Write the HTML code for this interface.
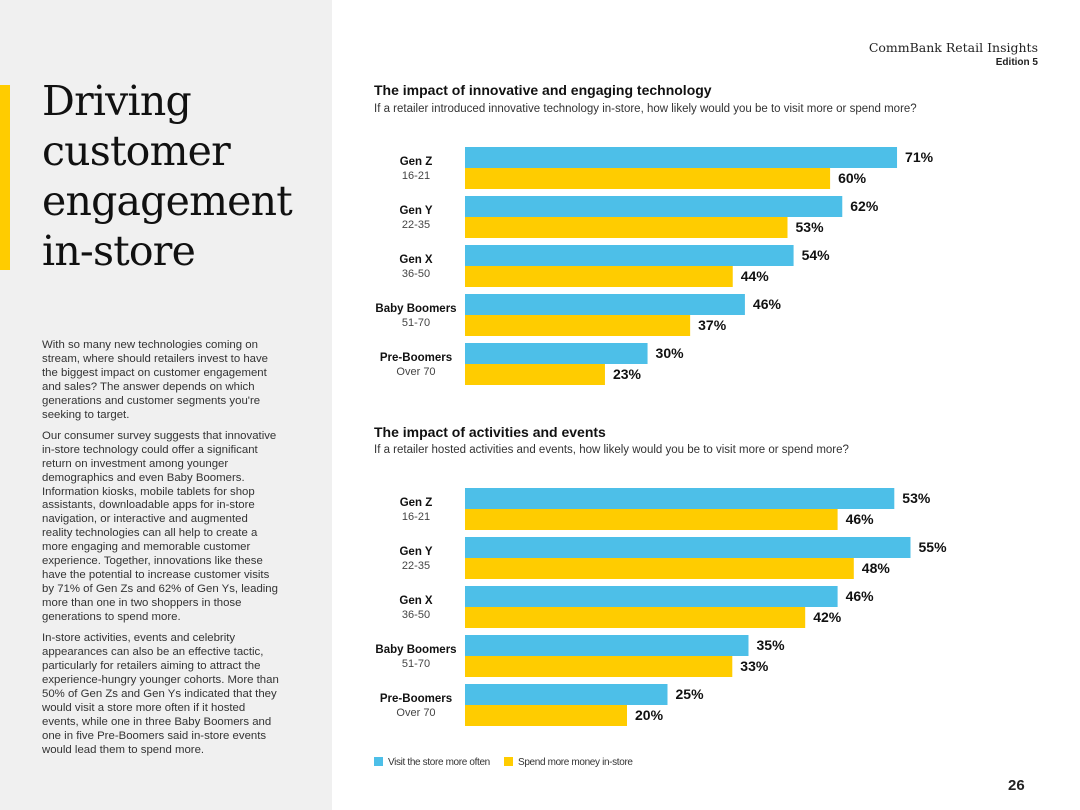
<!DOCTYPE html>
<html><head><meta charset="utf-8"><style>
body{margin:0;width:1080px;height:810px;position:relative;background:#fff;font-family:"Liberation Sans",sans-serif;color:#222;overflow:hidden}
.left{position:absolute;left:0;top:0;width:332px;height:810px;background:#f0f0f0}
.accent{position:absolute;left:0;top:85px;width:10px;height:185px;background:#ffcc00}
h1{position:absolute;left:42px;top:76px;margin:0;font-family:"DejaVu Serif","Liberation Serif",serif;font-weight:normal;font-size:41px;line-height:50px;color:#111;letter-spacing:-0.8px}
.body{position:absolute;left:42px;top:339px;width:238px;font-size:11.4px;line-height:13.95px;color:#333}
.body p{margin:0 0 7px 0}
.hdr{position:absolute;right:42px;top:40px;text-align:right;font-family:"DejaVu Serif",serif;font-size:12.5px;color:#222}
.hdr b{display:block;font-family:"Liberation Sans",sans-serif;font-size:10px;margin-top:2px}
.t{position:absolute;left:374px;font-weight:bold;font-size:14px;color:#111}
.s{position:absolute;left:374px;font-size:11.5px;color:#333}
.pg{position:absolute;left:1008px;top:777px;font-weight:bold;font-size:15px}
.leg{position:absolute;top:757px;font-size:10px;letter-spacing:-0.35px;color:#333;white-space:nowrap}
.leg i{display:inline-block;width:9px;height:9px;margin-right:5px;vertical-align:-1px}
</style></head><body>
<div class="left"></div>
<div class="accent"></div>
<h1>Driving<br>customer<br>engagement<br>in-store</h1>
<div class="body">
<p>With so many new technologies coming on stream, where should retailers invest to have the biggest impact on customer engagement and sales? The answer depends on which generations and customer segments you're seeking to target.</p>
<p>Our consumer survey suggests that innovative in-store technology could offer a significant return on investment among younger demographics and even Baby Boomers. Information kiosks, mobile tablets for shop assistants, downloadable apps for in-store navigation, or interactive and augmented reality technologies can all help to create a more engaging and memorable customer experience. Together, innovations like these have the potential to increase customer visits by 71% of Gen Zs and 62% of Gen Ys, leading more than one in two shoppers in those generations to spend more.</p>
<p>In-store activities, events and celebrity appearances can also be an effective tactic, particularly for retailers aiming to attract the experience-hungry younger cohorts. More than 50% of Gen Zs and Gen Ys indicated that they would visit a store more often if it hosted events, while one in three Baby Boomers and one in five Pre-Boomers said in-store events would lead them to spend more.</p>
</div>
<div class="hdr">CommBank Retail Insights<b>Edition 5</b></div>
<div class="t" style="top:82px">The impact of innovative and engaging technology</div>
<div class="s" style="top:103px">If a retailer introduced innovative technology in-store, how likely would you be to visit more or spend more?</div>
<div class="t" style="top:424px">The impact of activities and events</div>
<div class="s" style="top:444px">If a retailer hosted activities and events, how likely would you be to visit more or spend more?</div>
<div class="leg" style="left:374px"><i style="background:#4dbfe8"></i>Visit the store more often</div>
<div class="leg" style="left:504px"><i style="background:#ffcc00"></i>Spend more money in-store</div>
<div class="pg">26</div>
<svg id="c" width="1080" height="810" style="position:absolute;left:0;top:0"></svg>
<script>
const categories=["Gen Z","Gen Y","Gen X","Baby Boomers","Pre-Boomers"];
const ages=["16-21","22-35","36-50","51-70","Over 70"];
const techVisit=[71,62,54,46,30];
const techSpend=[60,53,44,37,23];
const eventVisit=[53,55,46,35,25];
const eventSpend=[46,48,42,33,20];
const svg=document.getElementById('c');
const NS='http://www.w3.org/2000/svg';
function el(t,a){const e=document.createElementNS(NS,t);for(const k in a)e.setAttribute(k,a[k]);svg.appendChild(e);return e;}
function chart(id,top,scale,vis,spd){
  const x0=465,bh=21,gap=49;
  const xs=v=>x0+v*scale;
  categories.forEach((c,i)=>{
    const y=top+i*gap;
    const l=el('text',{x:416,y:y+18,'text-anchor':'middle','font-size':11.5,'font-weight':'bold',fill:'#111','font-family':'Liberation Sans'});
    l.textContent=c;
    
    
    const a=el('text',{x:416,y:y+32,'text-anchor':'middle','font-size':11,fill:'#444','font-family':'Liberation Sans'});
    a.textContent=ages[i];
    
    
    [[vis[i],'#4dbfe8',0],[spd[i],'#ffcc00',bh]].forEach(([v,col,off],j)=>{
      const r=el('rect',{x:x0,y:y+off,width:xs(v)-x0,height:bh,fill:col});
      
      
      const t=el('text',{x:xs(v)+8,y:y+off+15,'font-size':14,'font-weight':'bold',fill:'#111','font-family':'Liberation Sans'});
      t.textContent=v+'%';
      
      
    });
  });
}
chart('tech',147,6.085,techVisit,techSpend);
chart('events',488,8.1,eventVisit,eventSpend);
</script>
</body></html>
